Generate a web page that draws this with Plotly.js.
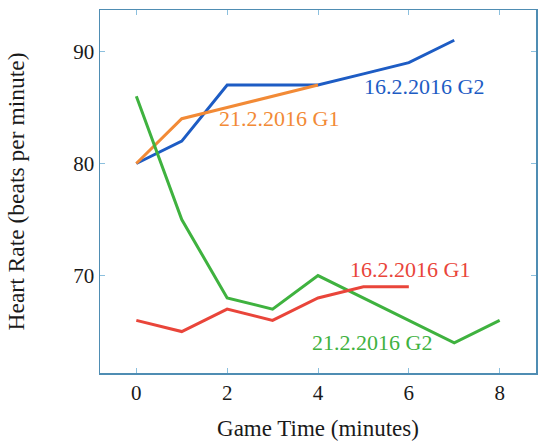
<!DOCTYPE html>
<html>
<head>
<meta charset="utf-8">
<script src="https://cdn.plot.ly/plotly-3.0.1.min.js"></script>
<style>html,body{margin:0;padding:0;background:#fff;}</style>
</head>
<body>
<div id="chart" style="width:550px;height:443px;"></div>
<script>
// Data
const minutes = [0, 1, 2, 3, 4, 5, 6, 7, 8];
const g2_1602 = [80, 82, 87, 87, 87, 88, 89, 91];        // 16.2.2016 G2 (blue)
const g1_2102 = [80, 84, 85, 86, 87];                    // 21.2.2016 G1 (orange)
const g2_2102 = [86, 75, 68, 67, 70, 68, 66, 64, 66];    // 21.2.2016 G2 (green)
const g1_1602 = [66, 65, 67, 66, 68, 69, 69];            // 16.2.2016 G1 (red)
const seriesNames = ['16.2.2016 G2', '21.2.2016 G1', '21.2.2016 G2', '16.2.2016 G1'];
const xTicks = [0, 2, 4, 6, 8];
const yTicks = [70, 80, 90];

const colors = ['#1d5cc4', '#f28a36', '#3fb23f', '#e9453a'];
const series = [g2_1602, g1_2102, g2_2102, g1_1602];

const traces = series.map((ys, i) => ({
  x: minutes.slice(0, ys.length),
  y: ys,
  type: 'scatter',
  mode: 'lines',
  name: seriesNames[i],
  line: {color: colors[i], width: 3}
}));

// label positions (placement of text only)
const labelPos = [[6.34, 86.9], [3.15, 84.0], [5.19, 64.0], [6.03, 70.5]];
const annotations = seriesNames.map((n, i) => ({
  x: labelPos[i][0], y: labelPos[i][1], xref: 'x', yref: 'y',
  text: n, showarrow: false,
  font: {family: 'Liberation Serif, serif', size: 22, color: colors[i]}
}));

const axisCommon = {
  showline: true, mirror: 'ticks', linecolor: '#4f8db3', linewidth: 1.5,
  ticks: 'inside', ticklen: 5, tickcolor: '#8cc0de', tickwidth: 1,
  showgrid: false, zeroline: false,
  tickfont: {family: 'Liberation Serif, serif', size: 21, color: '#1a1a1a'}
};

const layout = {
  width: 550, height: 443,
  margin: {l: 100, r: 14, t: 10, b: 70},
  paper_bgcolor: '#ffffff', plot_bgcolor: '#ffffff',
  showlegend: false,
  xaxis: Object.assign({}, axisCommon, {
    range: [-0.8, 8.8], tickvals: xTicks,
    title: {text: 'Game Time (minutes)', standoff: 16,
      font: {family: 'Liberation Serif, serif', size: 23, color: '#1a1a1a'}}
  }),
  yaxis: Object.assign({}, axisCommon, {
    range: [61.3, 93.7], tickvals: yTicks,
    title: {text: 'Heart Rate (beats per minute)', standoff: 42,
      font: {family: 'Liberation Serif, serif', size: 23.5, color: '#1a1a1a'}}
  }),
  annotations: annotations
};

Plotly.newPlot('chart', traces, layout, {displayModeBar: false, staticPlot: true});
</script>
</body>
</html>
